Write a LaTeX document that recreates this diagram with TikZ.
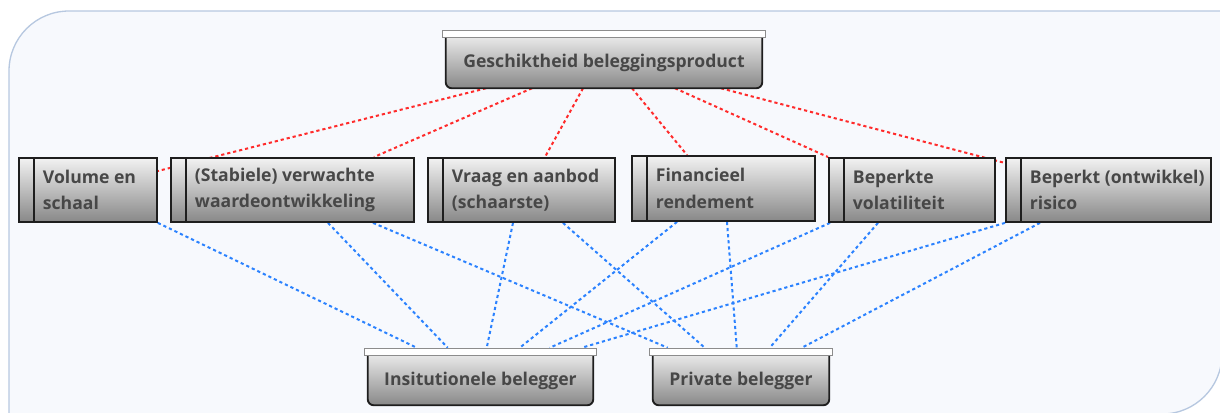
\documentclass[tikz,border=0pt]{standalone}
\usepackage{fontspec}
\setmainfont{Open Sans}
\definecolor{txt}{HTML}{474747}
\definecolor{bord}{HTML}{1E1E1E}
\definecolor{gtop}{HTML}{F2F2F2}
\definecolor{gbot}{HTML}{888888}
\definecolor{capgray}{HTML}{8C8C8C}
\definecolor{linered}{HTML}{FF2B2B}
\definecolor{lineblue}{HTML}{2B82FF}
\definecolor{bgfill}{HTML}{F7F9FD}
\definecolor{bgline}{HTML}{B7C8E0}
\pgfdeclarelayer{bg}\pgfdeclarelayer{lines}\pgfdeclarelayer{fills}
\pgfsetlayers{bg,lines,fills,main}
\newcommand\mtxt[2]{\hspace*{18pt}\parbox{\dimexpr#1-18pt\relax}{\raggedright #2}}
\tikzset{
  lbl/.style={font=\fontsize{13.2}{19.8}\selectfont\bfseries, text=txt},
  midbox/.style={lbl, anchor=north west, inner sep=0pt, draw=bord, line width=1.4pt,
    top color=gtop, bottom color=gbot, minimum height=48pt},
  headbox/.style={lbl, inner sep=0pt},
  headfill/.style={draw=bord, line width=1.4pt, top color=gtop!90!gray, bottom color=gbot, rounded corners=4.5pt},
  capbar/.style={draw=capgray, fill=white, line width=1.1pt},
  divider/.style={draw=bord, line width=1.4pt},
  redline/.style={draw=linered, line width=1.5pt, dash pattern=on 2.4pt off 2.2pt},
  blueline/.style={draw=lineblue, line width=1.5pt, dash pattern=on 2.4pt off 2.2pt},
}
\begin{document}
\begin{tikzpicture}[x=0.75pt,y=-0.75pt]
\useasboundingbox (0,0) rectangle (1220,412);
\begin{pgfonlayer}{bg}
\path[fill=bgfill, draw=bgline, line width=1pt]
  (9,430) -- (9,71) arc[start angle=180, end angle=90, radius=45pt]
  -- (1222,11) -- (1222,354) arc[start angle=0, end angle=-90, radius=45pt]
  -- (9,414) -- cycle;
\end{pgfonlayer}

% head node
\node[headbox, minimum width=237pt, minimum height=37.5pt] (top) at (604,63) {Geschiktheid beleggingsproduct};

% middle nodes
\node[midbox, minimum width=103.5pt] (vol) at (18,157) {\mtxt{103.5pt}{Volume en\\schaal}};
\node[midbox, minimum width=182.25pt] (stab) at (170,157) {\mtxt{182.25pt}{(Stabiele) verwachte\\waardeontwikkeling}};
\node[midbox, minimum width=140.25pt] (vraag) at (427,157) {\mtxt{140.25pt}{Vraag en aanbod\\(schaarste)}};
\node[midbox, minimum width=137.25pt, minimum height=48.75pt] (fin) at (631,155) {\mtxt{137.25pt}{Financieel\\rendement}};
\node[midbox, minimum width=124.5pt] (bep) at (828,157) {\mtxt{124.5pt}{Beperkte\\volatiliteit}};
\node[midbox, minimum width=153.75pt] (ris) at (1005,157) {\mtxt{153.75pt}{Beperkt (ontwikkel)\\risico}};
\foreach \n in {vol,stab,vraag,fin,bep,ris}
  \draw[divider] ([xshift=12pt]\n.north west) -- ([xshift=12pt]\n.south west);

% bottom nodes
\node[headbox, minimum width=168.75pt, minimum height=36.75pt] (inst) at (480.5,380.5) {Insitutionele belegger};
\node[headbox, minimum width=132pt, minimum height=36.75pt] (priv) at (741,380.5) {Private belegger};

% fills and caps for head-type nodes
\begin{pgfonlayer}{fills}
\foreach \n in {top,inst,priv}
  \path[headfill] (\n.north west) -- (\n.south west) -- (\n.south east) -- (\n.north east);
\end{pgfonlayer}
\foreach \n in {top,inst,priv}
  \path[capbar] ([xshift=-2.25pt]\n.north west) rectangle ([xshift=2.25pt,yshift=5.25pt]\n.north east);

% connectors
\begin{pgfonlayer}{lines}
\draw[redline] ([xshift=-88.5pt]top.south) -- ([yshift=-10.5pt]vol.north east);
\draw[redline] ([xshift=-54pt]top.south) -- ([xshift=153pt]stab.north west);
\draw[redline] ([xshift=-15.75pt]top.south) -- ([xshift=88.5pt]vraag.north west);
\draw[redline] ([xshift=21pt]top.south) -- ([xshift=42pt]fin.north west);
\draw[redline] ([xshift=53.25pt]top.south) -- (bep.north west);
\draw[redline] ([xshift=87.75pt]top.south) -- ([yshift=-4.5pt]ris.north west);

\draw[blueline] (vol.south east) -- ([xshift=36.75pt,yshift=6pt]inst.north west);
\draw[blueline] ([xshift=118.5pt]stab.south west) -- ([xshift=60pt,yshift=6pt]inst.north west);
\draw[blueline] ([xshift=152.25pt]stab.south west) -- ([xshift=11.25pt,yshift=6pt]priv.north west);
\draw[blueline] ([xshift=64.5pt]vraag.south west) -- ([xshift=89.25pt,yshift=6pt]inst.north west);
\draw[blueline] ([xshift=102pt]vraag.south west) -- ([xshift=39pt,yshift=6pt]priv.north west);
\draw[blueline] ([xshift=34.5pt]fin.south west) -- ([xshift=114pt,yshift=6pt]inst.north west);
\draw[blueline] ([xshift=72pt]fin.south west) -- ([xshift=63pt,yshift=6pt]priv.north west);
\draw[blueline] ([xshift=1.5pt]bep.south west) -- ([xshift=136.5pt,yshift=6pt]inst.north west);
\draw[blueline] ([xshift=37.5pt]bep.south west) -- ([xshift=87.75pt,yshift=6pt]priv.north west);
\draw[blueline] (ris.south west) -- ([xshift=160.5pt,yshift=6pt]inst.north west);
\draw[blueline] ([xshift=26.25pt]ris.south west) -- ([xshift=111.75pt,yshift=6pt]priv.north west);
\end{pgfonlayer}
\end{tikzpicture}
\end{document}
